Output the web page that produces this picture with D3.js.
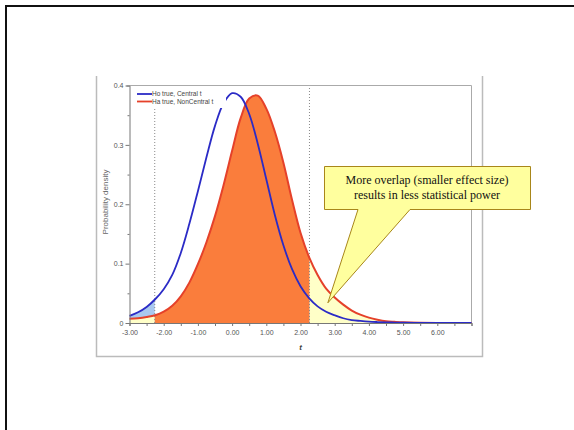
<!DOCTYPE html>
<html>
<head>
<meta charset="utf-8">
<script src="https://cdn.jsdelivr.net/npm/d3@7"></script>
<style>
  body { margin: 0; background: #fff; }
  svg { display: block; }
  .axis text { font-family: "Liberation Sans", Arial, sans-serif; font-size: 7px; fill: #555; }
  .axis path, .axis line { stroke: #777; }
</style>
</head>
<body>
<svg id="chart" width="574" height="430"></svg>
<script>
// t values
const tVals = [-3, -2.75, -2.5, -2.25, -2, -1.75, -1.5, -1.25, -1, -0.75, -0.5, -0.25,
  0, 0.25, 0.5, 0.75, 1, 1.25, 1.5, 1.75, 2, 2.25, 2.5, 2.75, 3, 3.25, 3.5, 3.75,
  4, 4.25, 4.5, 4.75, 5, 5.5, 6, 6.5, 7];
const centralT = [0.012, 0.018, 0.027, 0.040, 0.057, 0.081, 0.118, 0.167, 0.222, 0.279, 0.332, 0.370,
  0.387, 0.381, 0.352, 0.302, 0.242, 0.182, 0.131, 0.091, 0.062, 0.042, 0.028, 0.019, 0.013, 0.008, 0.005, 0.0035,
  0.0023, 0.0016, 0.0011, 0.0008, 0.0005, 0.0003, 0.0001, 0.0001, 0];
const nonCentralT = [0.007, 0.008, 0.010, 0.013, 0.019, 0.029, 0.045, 0.068, 0.099, 0.136, 0.180, 0.232,
  0.290, 0.345, 0.378, 0.383, 0.361, 0.322, 0.270, 0.208, 0.152, 0.111, 0.081, 0.058, 0.043, 0.031, 0.021, 0.014,
  0.009, 0.0055, 0.003, 0.002, 0.0012, 0.0005, 0.0002, 0.0001, 0];
const critT = 2.262;
const xTicks = [-3, -2, -1, 0, 1, 2, 3, 4, 5, 6];
const yTicks = [0, 0.1, 0.2, 0.3, 0.4];
const seriesNames = ["Ho true, Central t", "Ha true, NonCentral t"];
const calloutLines = ["More overlap (smaller effect size)", "results in less statistical power"];

const svg = d3.select("#chart");

// slide frame
svg.append("rect").attr("x", 6).attr("y", 6).attr("width", 600).attr("height", 460)
  .style("fill", "none").style("stroke", "#111").style("stroke-width", 2);

// pasted image border
svg.append("path").attr("d", "M96.5,76 V356.5 H482.5 V76")
  .style("fill", "none").style("stroke", "#bbb").style("stroke-width", 1.5);

const x = d3.scaleLinear().domain([-3, 7]).range([129.5, 471.5]);
const y = d3.scaleLinear().domain([0, 0.4]).range([323, 85.5]);

const blueData = tVals.map((t, i) => [t, centralT[i]]);
const redData = tVals.map((t, i) => [t, nonCentralT[i]]);

const curve = d3.curveCatmullRom.alpha(0.5);
const area = d3.area().x(d => x(d[0])).y0(y(0)).y1(d => y(d[1])).curve(curve);
const line = d3.line().x(d => x(d[0])).y(d => y(d[1])).curve(curve);

const defs = svg.append("defs");
defs.append("clipPath").attr("id", "tails").selectAll("rect")
  .data([[-3, -critT], [critT, 7]]).join("rect")
  .attr("x", d => x(d[0])).attr("width", d => x(d[1]) - x(d[0]))
  .attr("y", y(0.4)).attr("height", y(0) - y(0.4));
defs.append("clipPath").attr("id", "middle").append("rect")
  .attr("x", x(-critT)).attr("width", x(critT) - x(-critT))
  .attr("y", y(0.4)).attr("height", y(0) - y(0.4));

// shaded regions
svg.append("path").datum(blueData).attr("d", area).attr("clip-path", "url(#tails)")
  .style("fill", "#a9c8ef");
svg.append("path").datum(redData).attr("d", area).attr("clip-path", "url(#tails)")
  .style("fill", "#ffffc8");
svg.append("path").datum(redData).attr("d", area).attr("clip-path", "url(#middle)")
  .style("fill", "#fa7d3c");

// critical values
svg.selectAll(".crit").data([-critT, critT]).join("line")
  .attr("x1", d => x(d)).attr("x2", d => x(d))
  .attr("y1", y(0)).attr("y2", y(0.4))
  .style("stroke", "#888").style("stroke-width", 1).style("stroke-dasharray", "1,2");

// plot frame (top, right)
svg.append("path").attr("d", `M${x(-3)},${y(0.4)} H${x(7)} V${y(0)}`)
  .style("fill", "none").style("stroke", "#aaa").style("stroke-width", 1);

// curves
svg.append("path").datum(redData).attr("d", line)
  .style("fill", "none").style("stroke", "#e5412a").style("stroke-width", 2);
svg.append("path").datum(blueData).attr("d", line)
  .style("fill", "none").style("stroke", "#2b2bc6").style("stroke-width", 1.8);

// legend
svg.append("rect").attr("x", 134).attr("y", 88).attr("width", 92).attr("height", 20)
  .style("fill", "#fff");
const legend = svg.selectAll(".legend").data(seriesNames).join("g")
  .attr("transform", (d, i) => `translate(137,${94 + i * 7.5})`);
legend.append("line").attr("x1", 0).attr("x2", 15)
  .style("stroke", (d, i) => i ? "#e5412a" : "#2b2bc6").style("stroke-width", 1.8);
legend.append("text").attr("x", 15).attr("dy", "0.35em").text(d => d)
  .style("font-family", "Liberation Sans, Arial, sans-serif").style("font-size", "6.5px")
  .style("fill", "#444");

// axes
svg.append("g").attr("class", "axis").attr("transform", `translate(0,${y(0)})`)
  .call(d3.axisBottom(x).tickValues(d3.range(-3, 7.01, 0.5)).tickSize(3).tickPadding(4)
    .tickFormat(d => xTicks.includes(d) ? d.toFixed(2) : ""));
const yAxis = svg.append("g").attr("class", "axis").attr("transform", `translate(${x(-3)},0)`)
  .call(d3.axisLeft(y).tickValues(d3.range(0, 0.401, 0.05)).tickSize(3).tickPadding(3)
    .tickFormat(d => {
      const v = yTicks.find(k => Math.abs(k - d) < 1e-9);
      return v === undefined ? "" : (v === 0 ? "0" : v.toFixed(1));
    }));
yAxis.selectAll(".tick line").attr("x2", d => yTicks.some(k => Math.abs(k - d) < 1e-9) ? -4 : -2);

svg.append("text").attr("x", x(2)).attr("y", 350).attr("text-anchor", "middle")
  .text("t").style("font-family", "Liberation Sans, Arial, sans-serif")
  .style("font-size", "8px").style("font-style", "italic").style("font-weight", "bold").style("fill", "#444");
svg.append("text").attr("transform", "translate(108,202) rotate(-90)").attr("text-anchor", "middle")
  .text("Probability density").style("font-family", "Liberation Sans, Arial, sans-serif")
  .style("font-size", "8px").style("fill", "#666");

// callout
const tipX = x(2.8), tipY = y(0.034);
svg.append("path")
  .attr("d", `M324.5,166.5 H530.5 V209.5 H410 L${tipX},${tipY} L358,209.5 H324.5 Z`)
  .style("fill", "#ffff9e").style("stroke", "#a8861a").style("stroke-width", 1);
svg.selectAll(".callout").data(calloutLines).join("text")
  .attr("x", 427).attr("y", (d, i) => 184 + i * 15).attr("text-anchor", "middle")
  .text(d => d).style("font-family", "Liberation Serif, Times New Roman, serif")
  .style("font-size", "12px").style("fill", "#111");
</script>
</body>
</html>
